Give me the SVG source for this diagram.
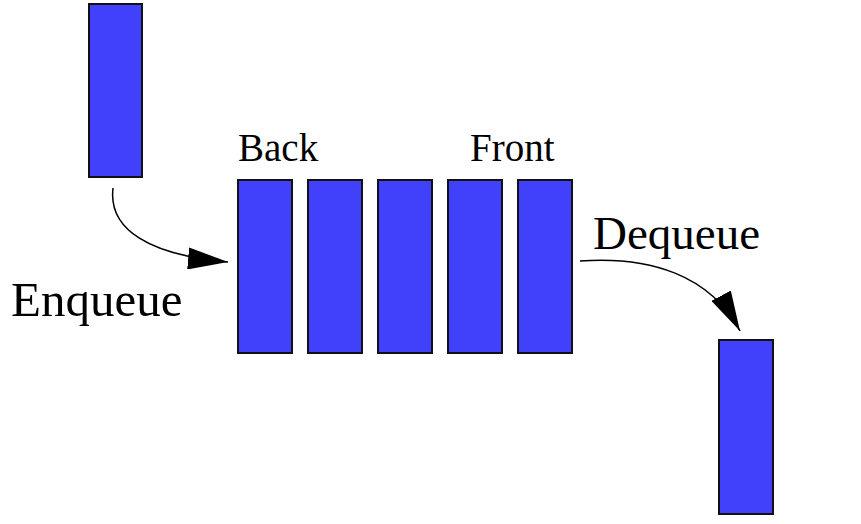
<svg xmlns="http://www.w3.org/2000/svg" width="861" height="524" viewBox="0 0 861 524">
<style>
.box{fill:#4141fb;stroke:#111;stroke-width:2}
.lbl{font-family:"Liberation Serif","Times New Roman",serif;fill:#000}
.conn{fill:none;stroke:#000;stroke-width:1.5}
</style>
<defs>
<marker id="ah" viewBox="0 0 40 22" refX="40" refY="11" markerWidth="40" markerHeight="22" markerUnits="userSpaceOnUse" orient="auto">
<path d="M0,0 L40,11 L0,22 Z" fill="#000"/>
</marker>
</defs>
<rect width="861" height="524" fill="#fff"/>
<g id="incoming"><rect class="box" x="89" y="4" width="53" height="173"/></g>
<g id="q1"><rect class="box" x="238" y="180" width="54" height="173"/></g>
<g id="q2"><rect class="box" x="308" y="180" width="54" height="173"/></g>
<g id="q3"><rect class="box" x="378" y="180" width="54" height="173"/></g>
<g id="q4"><rect class="box" x="448" y="180" width="54" height="173"/></g>
<g id="q5"><rect class="box" x="518" y="180" width="54" height="173"/></g>
<g id="outgoing"><rect class="box" x="719" y="340" width="54" height="174"/></g>
<g id="labels">
<text class="lbl" x="238" y="161" font-size="39">Back</text>
<text class="lbl" x="470" y="161" font-size="39">Front</text>
<text class="lbl" x="593" y="249" font-size="47">Dequeue</text>
<text class="lbl" x="11" y="316" font-size="49">Enqueue</text>
</g>
<g id="connectors">
<path class="conn" d="M113,188 C108,230 150,255 228,262" marker-end="url(#ah)"/>
<path class="conn" d="M580,261 C650,256 710,275 740,331" marker-end="url(#ah)"/>
</g>
</svg>
